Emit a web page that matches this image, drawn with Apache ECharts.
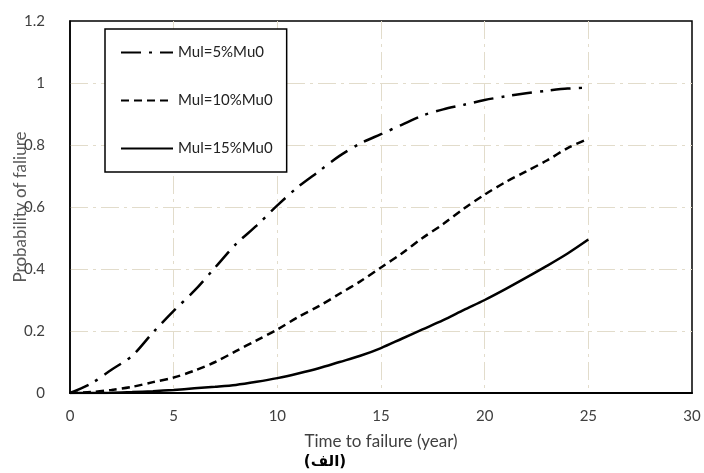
<!DOCTYPE html>
<html><head><meta charset="utf-8">
<script src="https://cdn.jsdelivr.net/npm/echarts@6/dist/echarts.min.js"></script>
<style>html,body{margin:0;padding:0;background:#fff}#c{width:704px;height:473px}</style>
</head><body><div id="c"></div>
<script>
var years = [0,1,2,3,4,5,6,7,8,9,10,11,12,13,14,15,16,17,18,19,20,21,22,23,24,25];
var mul5  = [0,0.03,0.075,0.12,0.195,0.265,0.33,0.405,0.48,0.54,0.605,0.665,0.715,0.765,0.805,0.835,0.865,0.895,0.915,0.93,0.945,0.957,0.967,0.975,0.982,0.985];
var mul10 = [0,0.003,0.01,0.02,0.035,0.05,0.072,0.1,0.135,0.17,0.205,0.245,0.28,0.32,0.36,0.405,0.45,0.5,0.545,0.595,0.64,0.68,0.715,0.75,0.79,0.82];
var mul15 = [0,0,0.001,0.003,0.006,0.01,0.015,0.02,0.026,0.036,0.048,0.063,0.08,0.1,0.12,0.145,0.175,0.205,0.235,0.268,0.3,0.335,0.372,0.41,0.45,0.495];
var seriesNames = ['Mul=5%Mu0','Mul=10%Mu0','Mul=15%Mu0'];
var xTitle = 'Time to failure (year)';
var yTitle = 'Probability of faliure';
var caption = '(الف)';

function pairs(v){ return years.map(function(x,i){ return [x, v[i]]; }); }
var gridLine = {show:true, showMinLine:false, showMaxLine:false, lineStyle:{color:'#e2dccb', width:1, type:[18,5,3,5]}};
var font = 'Lato, "Open Sans", sans-serif';
var chart = echarts.init(document.getElementById('c'));
chart.setOption({
  animation:false,
  backgroundColor:'#fff',
  grid:{left:70, right:12, top:21, bottom:80, show:true, borderColor:'#000', borderWidth:1.5, containLabel:false, outerBoundsMode:'none'},
  legend:{
    left:105, top:29, orient:'vertical', itemGap:33, itemWidth:52, itemHeight:15,
    padding:[16,14,16,15], borderColor:'#000', borderWidth:1.5, backgroundColor:'#fff',
    itemStyle:{color:'transparent', borderColor:'transparent', borderWidth:0},
    textStyle:{fontFamily:font, fontSize:15, color:'#222'},
    data:seriesNames
  },
  xAxis:{type:'value', min:0, max:30, interval:5,
    name:xTitle, nameLocation:'middle', nameGap:40, nameMoveOverlap:false,
    nameTextStyle:{fontFamily:font, fontSize:17, color:'#404040'},
    axisLine:{show:true, lineStyle:{color:'#000', width:2}},
    axisTick:{show:false},
    axisLabel:{fontFamily:font, fontSize:15, color:'#404040', margin:16},
    splitLine:gridLine},
  yAxis:{type:'value', min:0, max:1.2, interval:0.2,
    name:yTitle, nameLocation:'middle', nameGap:41, nameMoveOverlap:false,
    nameTextStyle:{fontFamily:font, fontSize:17, color:'#595959'},
    axisLine:{show:true, lineStyle:{color:'#000', width:1.5}},
    axisTick:{show:false},
    axisLabel:{fontFamily:font, fontSize:15, color:'#404040', margin:25},
    splitLine:gridLine},
  graphic:[{type:'text', x:325, y:462, style:{text:caption, font:'bold 15px "DejaVu Sans", sans-serif', fill:'#000', align:'center', verticalAlign:'middle'}}],
  series:[
    {name:seriesNames[0], type:'line', data:pairs(mul5), symbol:'none', smooth:0.3,
     lineStyle:{color:'#000', width:2.5, type:[20,8,3,8]}, itemStyle:{color:'#000'}},
    {name:seriesNames[1], type:'line', data:pairs(mul10), symbol:'none', smooth:0.3,
     lineStyle:{color:'#000', width:2.5, type:[8,5]}, itemStyle:{color:'#000'}},
    {name:seriesNames[2], type:'line', data:pairs(mul15), symbol:'none', smooth:0.3,
     lineStyle:{color:'#000', width:2.5, type:'solid'}, itemStyle:{color:'#000'}}
  ]
});
</script></body></html>
